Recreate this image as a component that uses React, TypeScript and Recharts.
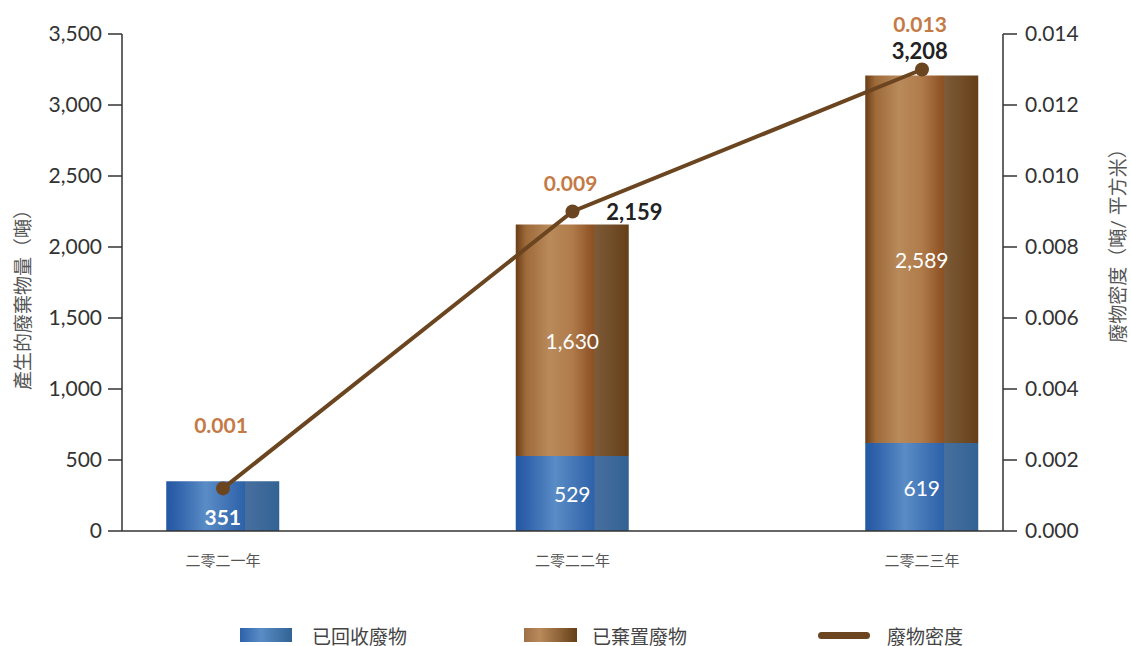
import React from "react";
import { Bar, ComposedChart, Line, LabelList, XAxis, YAxis } from "recharts";

const years = ["二零二一年", "二零二二年", "二零二三年"];
const recycled = [351, 529, 619];
const disposed = [0, 1630, 2589];
const totals = [null, 2159, 3208];
const density = [0.0012, 0.009, 0.013];
const leftTicks = [0, 500, 1000, 1500, 2000, 2500, 3000, 3500];
const rightTicks = [0, 0.002, 0.004, 0.006, 0.008, 0.01, 0.012, 0.014];

const data = years.map((year, i) => ({
  year,
  recycled: recycled[i],
  disposed: disposed[i] || null,
  total: totals[i],
  density: density[i],
}));

const FONT = "Lato, 'Noto Sans CJK TC', sans-serif";
const LINE_COLOR = "#6b4520";
const fmt = (v: number) => v.toLocaleString("en-US");

function RecycledLabel(props: any) {
  const { x, y, width, height, value, index } = props;
  const first = index === 0;
  return (
    <text
      x={x + width / 2}
      y={first ? y + height / 2 + 10 : y + height / 2}
      textAnchor="middle"
      dominantBaseline="central"
      fill="#fff"
      fontSize={21}
      fontWeight={first ? 700 : 400}
      fontFamily={FONT}
    >
      {fmt(value)}
    </text>
  );
}

function DisposedLabel(props: any) {
  const { x, y, width, height, value } = props;
  if (!value) return null;
  return (
    <text
      x={x + width / 2}
      y={y + height / 2}
      textAnchor="middle"
      dominantBaseline="central"
      fill="#fff"
      fontSize={21}
      fontFamily={FONT}
    >
      {fmt(value)}
    </text>
  );
}

function TotalLabel(props: any) {
  const { x, y, width, value } = props;
  if (value == null) return null;
  // the 2022 total sits beside the density dot, the 2023 one above it
  const side = totals.indexOf(value) === 1;
  return (
    <text
      x={side ? x + width / 2 + 34 : x + width / 2 - 2}
      y={side ? y - 13 : y - 25}
      textAnchor={side ? "start" : "middle"}
      dominantBaseline="central"
      fill="#222"
      fontSize={22}
      fontWeight={700}
      fontFamily={FONT}
    >
      {fmt(value)}
    </text>
  );
}

const densityOffsets = [64, 29, 46];

function DensityLabel(props: any) {
  const { x, y, value, index } = props;
  return (
    <text
      x={x - 2}
      y={y - densityOffsets[index]}
      textAnchor="middle"
      dominantBaseline="central"
      fill="#c47a45"
      fontSize={21}
      fontWeight={700}
      fontFamily={FONT}
    >
      {value.toFixed(3)}
    </text>
  );
}

export default function App() {
  return (
    <div style={{ position: "absolute", left: 0, top: 0, width: 1131, height: 646, background: "#fff", fontFamily: FONT }}>
      <ComposedChart
        width={1131}
        height={646}
        data={data}
        margin={{ top: 34, right: 0, bottom: 75, left: 0 }}
      >
        <defs>
          <linearGradient id="blueGrad" x1="0" y1="0" x2="1" y2="0">
            <stop offset="0%" stopColor="#2257a2" />
            <stop offset="12%" stopColor="#3366ad" />
            <stop offset="35%" stopColor="#5a8cc6" />
            <stop offset="58%" stopColor="#3c6fb2" />
            <stop offset="69.5%" stopColor="#2d62aa" />
            <stop offset="70%" stopColor="#476f9e" />
            <stop offset="100%" stopColor="#326394" />
          </linearGradient>
          <linearGradient id="brownGrad" x1="0" y1="0" x2="1" y2="0">
            <stop offset="0%" stopColor="#6a3d16" />
            <stop offset="9%" stopColor="#9e6a3a" />
            <stop offset="30%" stopColor="#b98a5a" />
            <stop offset="50%" stopColor="#b07b4a" />
            <stop offset="66%" stopColor="#925628" />
            <stop offset="69.5%" stopColor="#8a5226" />
            <stop offset="70%" stopColor="#7d5b38" />
            <stop offset="100%" stopColor="#653f18" />
          </linearGradient>
        </defs>
        <XAxis
          dataKey="year"
          scale="point"
          padding={{ left: 101, right: 81 }}
          height={40}
          tickLine={false}
          axisLine={{ stroke: "#333", strokeWidth: 1.5 }}
          tickMargin={18}
          tick={{ fontSize: 15, fill: "#555", fontFamily: FONT }}
        />
        <YAxis
          yAxisId="left"
          width={122}
          domain={[0, 3500]}
          ticks={leftTicks}
          tickSize={14}
          tickMargin={6}
          tickFormatter={fmt}
          axisLine={{ stroke: "#333", strokeWidth: 1.5 }}
          tickLine={{ stroke: "#333", strokeWidth: 1.5 }}
          tick={{ fontSize: 21, fill: "#333", fontFamily: FONT }}
        />
        <YAxis
          yAxisId="right"
          orientation="right"
          width={128}
          domain={[0, 0.014]}
          ticks={rightTicks}
          tickSize={14}
          tickMargin={8}
          tickFormatter={(v: number) => v.toFixed(3)}
          axisLine={{ stroke: "#333", strokeWidth: 1.5 }}
          tickLine={{ stroke: "#333", strokeWidth: 1.5 }}
          tick={{ fontSize: 21, fill: "#333", fontFamily: FONT }}
        />
        <Bar yAxisId="left" dataKey="recycled" stackId="w" barSize={113} fill="url(#blueGrad)" isAnimationActive={false}>
          <LabelList dataKey="recycled" content={RecycledLabel} />
        </Bar>
        <Bar yAxisId="left" dataKey="disposed" stackId="w" barSize={113} fill="url(#brownGrad)" isAnimationActive={false}>
          <LabelList dataKey="disposed" content={DisposedLabel} />
          <LabelList dataKey="total" content={TotalLabel} />
        </Bar>
        <Line
          yAxisId="right"
          dataKey="density"
          stroke={LINE_COLOR}
          strokeWidth={4}
          dot={{ r: 7, fill: LINE_COLOR, stroke: LINE_COLOR, strokeWidth: 0 }}
          activeDot={false}
          isAnimationActive={false}
        >
          <LabelList dataKey="density" content={DensityLabel} />
        </Line>
      </ComposedChart>
      <svg width={1131} height={646} style={{ position: "absolute", left: 0, top: 0, pointerEvents: "none" }}>
        <text x={22} y={295} transform="rotate(-90 22 295)" textAnchor="middle" dominantBaseline="central" fontSize={19} fill="#555" fontFamily={FONT}>
          產生的廢棄物量（噸）
        </text>
        <text x={1117} y={241} transform="rotate(-90 1117 241)" textAnchor="middle" dominantBaseline="central" fontSize={19} fill="#555" fontFamily={FONT}>
          廢物密度（噸/ 平方米）
        </text>
      </svg>
      <div style={{ position: "absolute", top: 622, left: 0, width: 1131, height: 24, fontSize: 19, color: "#444" }}>
        <div style={{ position: "absolute", left: 240, top: 6, width: 52, height: 14, background: "linear-gradient(90deg,#2d62aa,#5a8cc6 40%,#326394)" }} />
        <span style={{ position: "absolute", left: 312, top: 0 }}>已回收廢物</span>
        <div style={{ position: "absolute", left: 524, top: 6, width: 53, height: 14, background: "linear-gradient(90deg,#9e7048,#b98a5a 30%,#653f18)" }} />
        <span style={{ position: "absolute", left: 592, top: 0 }}>已棄置廢物</span>
        <div style={{ position: "absolute", left: 818, top: 10, width: 52, height: 7, borderRadius: 4, background: LINE_COLOR }} />
        <span style={{ position: "absolute", left: 887, top: 0 }}>廢物密度</span>
      </div>
    </div>
  );
}
